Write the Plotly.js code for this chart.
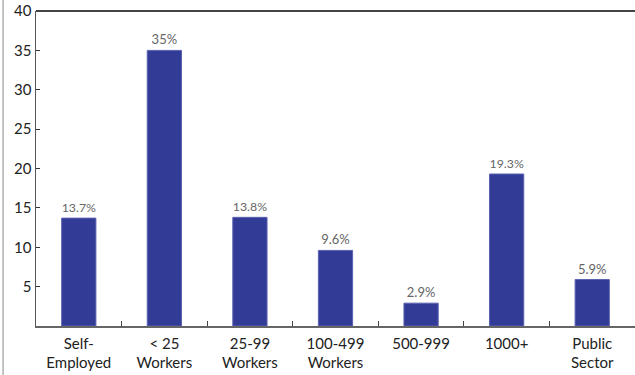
<!DOCTYPE html>
<html><head><meta charset="utf-8">
<script src="https://cdn.plot.ly/plotly-3.0.1.min.js"></script>
<style>html,body{margin:0;padding:0;background:#fff;}#chart{width:635px;height:375px;}</style>
</head><body><div id="chart"></div>
<script>
var categories = ["Self-<br>Employed", "< 25<br>Workers", "25-99<br>Workers", "100-499<br>Workers", "500-999", "1000+", "Public<br>Sector"];
var values = [13.7, 35, 13.8, 9.6, 2.9, 19.3, 5.9];
var valueLabels = ["13.7%", "35%", "13.8%", "9.6%", "2.9%", "19.3%", "5.9%"];
var yTicks = [5, 10, 15, 20, 25, 30, 35, 40];

var trace = {
  type: 'bar', x: categories, y: values, text: valueLabels,
  textposition: 'outside', cliponaxis: false,
  textfont: {family: 'Lato, sans-serif', size: 13, color: '#666'},
  marker: {color: '#323b95', line: {color: '#5a62b2', width: 1}},
  width: 0.4, hoverinfo: 'none'
};
var layout = {
  width: 635, height: 375,
  margin: {l: 36, r: 0, t: 11, b: 49},
  paper_bgcolor: '#fff', plot_bgcolor: '#fff',
  showlegend: false,
  font: {family: 'Lato, sans-serif', color: '#222'},
  xaxis: {
    showline: true, linecolor: '#666', linewidth: 1.5,
    ticks: 'inside', tickson: 'boundaries', ticklen: 5, tickcolor: '#444', tickwidth: 1,
    ticklabelstandoff: 3,
    tickfont: {size: 15, color: '#222'}, showgrid: false, zeroline: false
  },
  yaxis: {
    range: [0, 40], tickvals: yTicks, showline: true, linecolor: '#555', linewidth: 1.5,
    ticks: 'inside', ticklen: 4, tickcolor: '#333', tickwidth: 1,
    tickfont: {size: 15, color: '#222'}, showgrid: false, zeroline: false
  },
  shapes: [
    {type: 'line', xref: 'paper', yref: 'paper', x0: 0, x1: 1, y0: 1, y1: 1, line: {color: '#444', width: 2}},
    {type: 'line', xref: 'paper', yref: 'paper', x0: -0.055, x1: -0.055, y0: -0.2, y1: 1.05, line: {color: '#888', width: 1}}
  ]
};
Plotly.newPlot('chart', [trace], layout, {staticPlot: true});
</script></body></html>
